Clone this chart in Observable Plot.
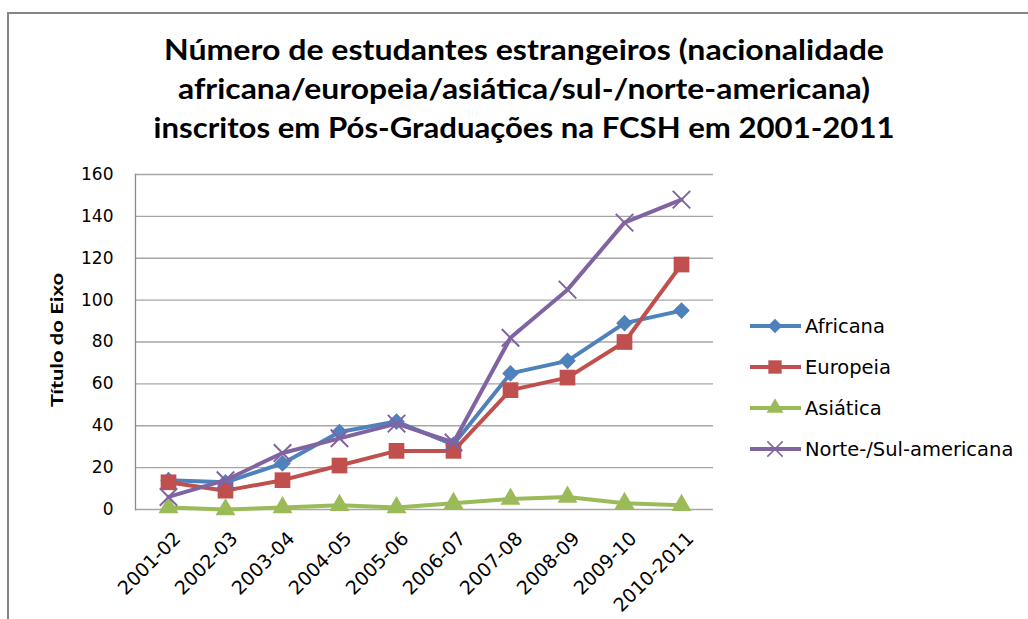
<!DOCTYPE html>
<html><head><meta charset="utf-8">
<script src="https://cdn.jsdelivr.net/npm/d3@7"></script>
<script src="https://cdn.jsdelivr.net/npm/@observablehq/plot@0.6"></script>
<style>
body{margin:0;background:#fff}
#wrap{position:relative;width:1028px;height:619px;overflow:hidden;background:#fff}
#wrap svg{position:absolute;left:0;top:0}
</style>
</head><body><div id="wrap"></div>
<script>
const years = ["2001-02","2002-03","2003-04","2004-05","2005-06","2006-07","2007-08","2008-09","2009-10","2010-2011"];
const africana = [14,13,22,37,42,31,65,71,89,95];
const europeia = [13,9,14,21,28,28,57,63,80,117];
const asiatica = [1,0,1,2,1,3,5,6,3,2];
const norteSul = [6,14,27,34,41,32,82,105,137,148];
const seriesNames = ["Africana","Europeia","Asiática","Norte-/Sul-americana"];
const seriesValues = [africana, europeia, asiatica, norteSul];
const seriesColors = ["#4F81BD","#C0504D","#9BBB59","#8064A2"];
const seriesSymbols = ["diamond2","square2","triangle2","times"];
const seriesR = [7.5, 10, 9.5, 8];
const legendR = [6.5, 8.5, 8, 7];
const yTicks = [0,20,40,60,80,100,120,140,160];
const titleLines = [
  "Número de estudantes estrangeiros (nacionalidade",
  "africana/europeia/asiática/sul-/norte-americana)",
  "inscritos em Pós-Graduações na FCSH em 2001-2011"
];
const yLabel = "Título do Eixo";

const W = 1028, H = 619;
const rows = seriesNames.map((name, i) => years.map((yr, j) => ({series: name, year: yr, value: seriesValues[i][j]})));

const marks = [
  Plot.ruleY(yTicks, {stroke: "#A6A6A6", strokeWidth: 1.3}),
  Plot.frame({anchor: "left", stroke: "#8A8A8A", strokeWidth: 1.3}),
  Plot.axisY({ticks: yTicks, tickSize: 0, tickPadding: 22, fontSize: 17, label: null}),
  Plot.axisX({tickSize: 0, tickPadding: 26, dx: 9, tickRotate: -45, fontSize: 19, label: null})
];
rows.forEach((data, i) => {
  marks.push(Plot.line(data, {x: "year", y: "value", stroke: seriesColors[i], strokeWidth: 4}));
  const filled = seriesSymbols[i] !== "times";
  marks.push(Plot.dot(data, {
    x: "year", y: "value", symbol: () => seriesSymbols[i], r: seriesR[i],
    fill: filled ? seriesColors[i] : "none",
    stroke: filled ? "none" : seriesColors[i],
    strokeWidth: filled ? 0 : 2
  }));
});

const chart = Plot.plot({
  width: W, height: H,
  marginLeft: 135, marginRight: W - 713, marginTop: 174, marginBottom: H - 509,
  style: {fontFamily: "DejaVu Sans", fontSize: "17px", background: "transparent", color: "#000"},
  x: {type: "point", domain: years, padding: 0.5},
  y: {domain: [0, 160]},
  symbol: {type: "identity"},
  marks
});
document.getElementById("wrap").appendChild(chart);

// overlay: border, title, y label, legend
const ov = d3.select("#wrap").append("svg").attr("width", W).attr("height", H).style("pointer-events", "none");
ov.append("path").attr("d", `M8,${H+5}V13H${W+5}`).attr("fill", "none").attr("stroke", "#868686").attr("stroke-width", 2);

const titleWidths = [720, 692, 741];
const titleY = [60, 99, 138];
titleLines.forEach((t, i) => {
  ov.append("text").attr("x", 524).attr("y", titleY[i]).attr("text-anchor", "middle")
    .attr("font-family", "Lato").attr("font-weight", "bold").attr("font-size", 28)
    .attr("textLength", titleWidths[i]).attr("lengthAdjust", "spacingAndGlyphs")
    .attr("fill", "#000").text(t);
});

ov.append("text").attr("transform", "translate(63,340) rotate(-90)").attr("text-anchor", "middle")
  .attr("font-family", "Lato").attr("font-weight", "bold").attr("font-size", 17)
  .attr("textLength", 134).attr("lengthAdjust", "spacingAndGlyphs").attr("fill", "#000").text(yLabel);

const symbolMap = {diamond2: d3.symbolDiamond2, square2: d3.symbolSquare2, triangle2: d3.symbolTriangle2, times: d3.symbolTimes};
seriesNames.forEach((name, i) => {
  const cy = 326 + 41 * i;
  const g = ov.append("g");
  g.append("line").attr("x1", 750).attr("x2", 801).attr("y1", cy).attr("y2", cy)
    .attr("stroke", seriesColors[i]).attr("stroke-width", 4);
  const filled = seriesSymbols[i] !== "times";
  g.append("path").attr("transform", `translate(775,${cy})`)
    .attr("d", d3.symbol(symbolMap[seriesSymbols[i]], Math.PI * legendR[i] * legendR[i])())
    .attr("fill", filled ? seriesColors[i] : "none")
    .attr("stroke", filled ? "none" : seriesColors[i]).attr("stroke-width", filled ? 0 : 1.5);
  g.append("text").attr("x", 805).attr("y", cy).attr("dy", "0.36em")
    .attr("font-family", "DejaVu Sans").attr("font-size", 19.5).attr("fill", "#000").text(name);
});
</script>
</body></html>
